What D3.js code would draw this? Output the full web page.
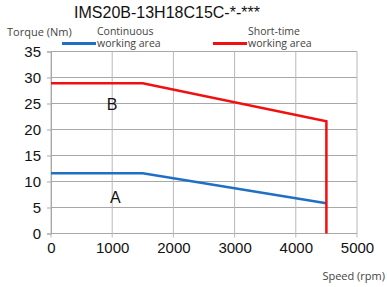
<!DOCTYPE html>
<html>
<head>
<meta charset="utf-8">
<script src="https://cdn.jsdelivr.net/npm/d3@7"></script>
<style>
  body { margin: 0; background: #fff; }
  svg { display: block; font-family: "Liberation Sans", Arial, sans-serif; }
</style>
</head>
<body>
<svg id="chart" width="387" height="287"></svg>
<script>
// values
var speed = [0, 1500, 4500];
var continuous = [11.6, 11.6, 5.8];
var shortTime = [28.9, 28.9, 21.6];
var xTicks = [0, 1000, 2000, 3000, 4000, 5000];
var yTicks = [0, 5, 10, 15, 20, 25, 30, 35];

var svg = d3.select("#chart");
var x = d3.scaleLinear().domain([0, 5000]).range([51, 357]);
var y = d3.scaleLinear().domain([0, 35]).range([233.5, 51.5]);

// grid
svg.append("g").selectAll("line").data(yTicks).enter().append("line")
  .attr("x1", x(0)).attr("x2", x(5000))
  .attr("y1", function (d) { return y(d); }).attr("y2", function (d) { return y(d); })
  .attr("stroke", "#a8a8a8").attr("stroke-width", 1);
svg.append("g").selectAll("line").data(xTicks).enter().append("line")
  .attr("x1", function (d) { return x(d); }).attr("x2", function (d) { return x(d); })
  .attr("y1", y(35)).attr("y2", y(0) + 4)
  .attr("stroke", "#b8b8b8").attr("stroke-width", 1);

// y axis
var yAxis = svg.append("g").attr("transform", "translate(" + x(0) + ",0)")
  .call(d3.axisLeft(y).tickValues(yTicks).tickSize(4).tickPadding(6));
yAxis.select(".domain").attr("stroke", "#a8a8a8");
yAxis.selectAll(".tick line").attr("stroke", "#a8a8a8");
yAxis.selectAll("text").attr("font-size", 15).attr("fill", "#111")
  .attr("font-family", "Liberation Sans, Arial, sans-serif");

// x axis labels
var xAxis = svg.append("g").attr("transform", "translate(0," + y(0) + ")")
  .call(d3.axisBottom(x).tickValues(xTicks).tickSize(0).tickPadding(9).tickFormat(d3.format("d")));
xAxis.select(".domain").remove();
xAxis.selectAll("text").attr("font-size", 15).attr("fill", "#111")
  .attr("font-family", "Liberation Sans, Arial, sans-serif");

// curves
var line = d3.line()
  .x(function (d) { return x(d[0]); })
  .y(function (d) { return y(d[1]); });

svg.append("path")
  .datum(speed.map(function (s, i) { return [s, continuous[i]]; }))
  .attr("d", line).attr("fill", "none")
  .attr("stroke", "#1f6fc5").attr("stroke-width", 2.5);

var redPts = speed.map(function (s, i) { return [s, shortTime[i]]; });
redPts.push([4500, 0]);
svg.append("path")
  .datum(redPts)
  .attr("d", line).attr("fill", "none")
  .attr("stroke", "#f01010").attr("stroke-width", 2.5);

// area labels
svg.append("text").attr("x", x(1000)).attr("y", y(25) + 6)
  .attr("text-anchor", "middle").attr("font-size", 16).attr("fill", "#111").text("B");
svg.append("text").attr("x", x(1050)).attr("y", y(7) + 6)
  .attr("text-anchor", "middle").attr("font-size", 16).attr("fill", "#111").text("A");

// title + axis titles
svg.append("text").attr("x", 167).attr("y", 18)
  .attr("text-anchor", "middle").attr("font-size", 16).attr("fill", "#111")
  .text("IMS20B-13H18C15C-*-***");
svg.append("text").attr("x", 7).attr("y", 36)
  .attr("font-size", 11).attr("fill", "#444").attr("font-family", "Open Sans, sans-serif")
  .text("Torque (Nm)");
svg.append("text").attr("x", 385).attr("y", 280)
  .attr("text-anchor", "end").attr("font-size", 11).attr("fill", "#444")
  .attr("font-family", "Open Sans, sans-serif").text("Speed (rpm)");

// legend
var legend = [
  { x: 62, color: "#1f6fc5", lines: ["Continuous", "working area"] },
  { x: 213, color: "#f01010", lines: ["Short-time", "working area"] }
];
legend.forEach(function (l) {
  svg.append("line").attr("x1", l.x).attr("x2", l.x + 34)
    .attr("y1", 43.5).attr("y2", 43.5)
    .attr("stroke", l.color).attr("stroke-width", 3);
  l.lines.forEach(function (t, i) {
    svg.append("text").attr("x", l.x + 35).attr("y", 34.5 + i * 12.5)
      .attr("font-size", 10.5).attr("fill", "#444")
      .attr("font-family", "Open Sans, sans-serif").text(t);
  });
});
</script>
</body>
</html>
